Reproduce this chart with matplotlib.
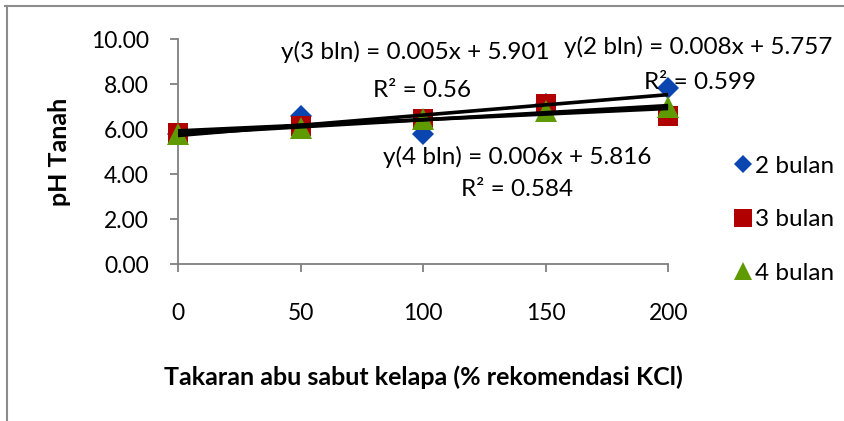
import numpy as np
import matplotlib
matplotlib.use("Agg")
import matplotlib.pyplot as plt
from matplotlib.lines import Line2D

plt.rcParams["font.family"] = ["Lato", "DejaVu Sans"]

# ------------------------------------------------------------
# Data
# ------------------------------------------------------------
takaran = [0, 50, 100, 150, 200]
ph_2bln = [5.80, 6.60, 5.78, 7.10, 7.82]
ph_3bln = [5.82, 6.13, 6.45, 7.10, 6.58]
ph_4bln = [5.78, 6.04, 6.45, 6.80, 6.98]

series_labels = ["2 bulan", "3 bulan", "4 bulan"]
eq_lines = [
    ("y(2 bln) = 0.008x + 5.757", "R² = 0.599"),
    ("y(3 bln) = 0.005x + 5.901", "R² = 0.56"),
    ("y(4 bln) = 0.006x + 5.816", "R² = 0.584"),
]
yticks = [0, 2, 4, 6, 8, 10]
xticks = [0, 50, 100, 150, 200]

# ------------------------------------------------------------
# Figure
# ------------------------------------------------------------
fig = plt.figure(figsize=(8.45, 4.21), dpi=100)
ax = fig.add_axes([0.2107, 0.3729, 0.58, 0.5344])

styles = [
    dict(marker="D", color="#0b45b0", ms=11),
    dict(marker="s", color="#b00000", ms=15),
    dict(marker="^", color="#5f9a00", ms=16),
]
all_y = [ph_2bln, ph_3bln, ph_4bln]

handles = []
for y, st, lab in zip(all_y, styles, series_labels):
    h, = ax.plot(takaran, y, linestyle="none", marker=st["marker"],
                 color=st["color"], markersize=st["ms"], label=lab,
                 markeredgewidth=0, zorder=3, clip_on=False)
    handles.append(h)

# linear trend lines
xs = np.array([min(takaran), max(takaran)])
for y in all_y:
    m, c = np.polyfit(takaran, y, 1)
    ax.plot(xs, m * xs + c, color="black", linewidth=2.6, zorder=4,
            solid_capstyle="butt", clip_on=False)

ax.set_xlim(0, 200)
ax.set_ylim(0, 10)
ax.set_yticks(yticks)
ax.set_yticklabels([f"{v:.2f}" for v in yticks])
ax.set_xticks(xticks)

for side in ["top", "right"]:
    ax.spines[side].set_visible(False)
for side in ["left", "bottom"]:
    ax.spines[side].set_color("#7f7f7f")
    ax.spines[side].set_linewidth(1.3)
ax.tick_params(axis="both", direction="out", length=6, width=1.3,
               color="#7f7f7f", labelsize=16.5)
ax.tick_params(axis="x", pad=22)
ax.tick_params(axis="y", pad=15)

ax.set_ylabel("pH Tanah", fontsize=18, fontweight="bold", labelpad=14)
ax.set_xlabel("Takaran abu sabut kelapa (% rekomendasi KCl)", fontsize=18,
              fontweight="bold", labelpad=30)

# trendline equations (figure coords)
eq_pos = [
    ((0.826, 0.888), (0.828, 0.805)),
    ((0.491, 0.876), (0.499, 0.786)),
    ((0.612, 0.627), (0.612, 0.549)),
]
for (eq, r2), (p1, p2) in zip(eq_lines, eq_pos):
    fig.text(p1[0], p1[1], eq, fontsize=17.5, ha="center", va="center")
    fig.text(p2[0], p2[1], r2, fontsize=17.5, ha="center", va="center")

leg = fig.legend(handles=handles, loc="center left",
                 bbox_to_anchor=(0.847, 0.478), frameon=False, fontsize=17.5,
                 handletextpad=0.05, handlelength=0.85, labelspacing=1.33,
                 markerscale=0.85, borderpad=0.2)

# outer chart frame (only top and left visible)
fig.add_artist(Line2D([0.006, 1.0], [0.986, 0.986], color="#8c8c8c",
                      linewidth=1.5, transform=fig.transFigure))
fig.add_artist(Line2D([0.008, 0.008], [0.0, 0.986], color="#8c8c8c",
                      linewidth=1.5, transform=fig.transFigure))

plt.savefig("out.png", dpi=100)
